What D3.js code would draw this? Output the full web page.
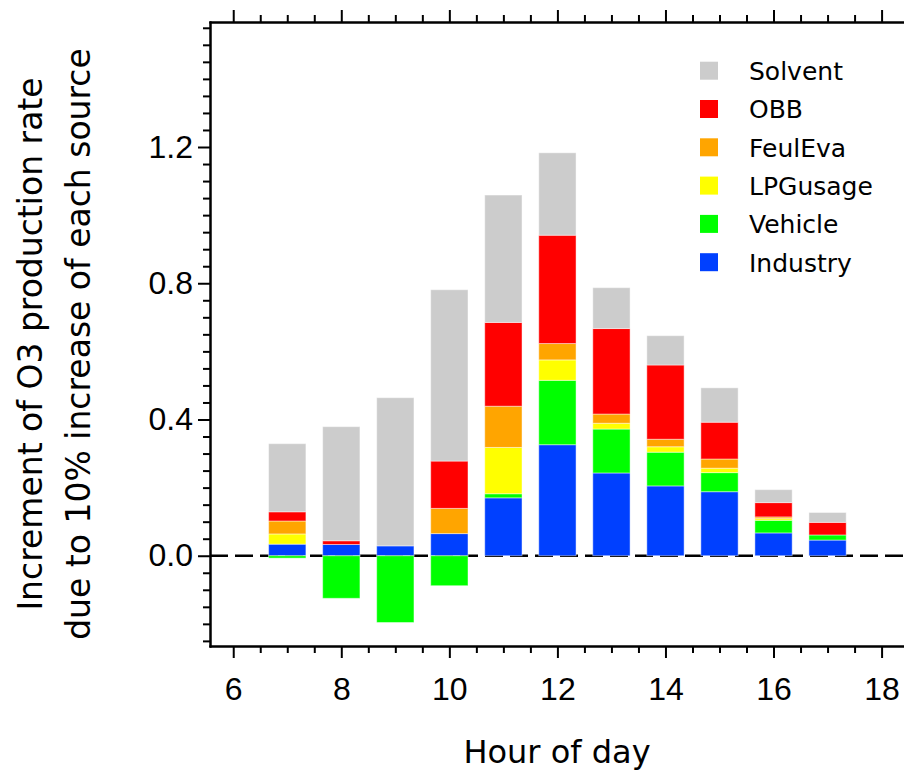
<!DOCTYPE html>
<html>
<head>
<meta charset="utf-8">
<script src="https://cdn.jsdelivr.net/npm/d3@7"></script>
<style>
  body { margin: 0; background: #fff; }
  svg { display: block; font-family: "DejaVu Sans", Verdana, sans-serif; }
  .axis path, .axis line { stroke: #000; stroke-width: 2; }
  .axis text { fill: #000; font-size: 32px; }
</style>
</head>
<body>
<script>
// hours and the contribution of each source (stacked bottom -> top)
var hours = [7, 8, 9, 10, 11, 12, 13, 14, 15, 16, 17];
var industry = [0.034, 0.033, 0.029, 0.065, 0.170, 0.326, 0.243, 0.205, 0.188, 0.067, 0.046];
var vehicle  = [-0.007, -0.125, -0.196, -0.088, 0.012, 0.189, 0.129, 0.099, 0.056, 0.037, 0.015];
var lpgusage = [0.030, 0, 0, 0, 0.136, 0.060, 0.017, 0.016, 0.013, 0.005, 0];
var feuleva  = [0.038, 0, 0, 0.074, 0.121, 0.048, 0.027, 0.022, 0.027, 0.005, 0];
var obb      = [0.027, 0.011, 0, 0.139, 0.246, 0.318, 0.251, 0.218, 0.108, 0.042, 0.037];
var solvent  = [0.200, 0.335, 0.435, 0.503, 0.374, 0.242, 0.120, 0.086, 0.101, 0.038, 0.029];

var sources = ["Industry", "Vehicle", "LPGusage", "FeulEva", "OBB", "Solvent"];
var colors = ["#0040ff", "#00ff00", "#ffff00", "#ffa500", "#ff0000", "#cccccc"];

var xMajor = [6, 8, 10, 12, 14, 16, 18];
var yMajor = [0.0, 0.4, 0.8, 1.2];

var width = 904, height = 770;

// build rows for d3.stack
var rows = hours.map(function (h, i) {
    return {
        hour: h, Industry: industry[i], Vehicle: vehicle[i], LPGusage: lpgusage[i],
        FeulEva: feuleva[i], OBB: obb[i], Solvent: solvent[i]
    };
});

var series = d3.stack()
    .keys(sources)
    .offset(d3.stackOffsetDiverging)(rows);

var color = d3.scaleOrdinal().domain(sources).range(colors);

// plot area runs off the right edge of the window
var xScale = d3.scaleLinear().domain([5.57, 18.5]).range([210, 908.6]);
var yScale = d3.scaleLinear().domain([-0.265, 1.567]).range([646, 22]);

var svg = d3.select("body").append("svg")
    .attr("width", width)
    .attr("height", height);

// zero line (dashed), drawn under the bars
svg.append("line")
    .attr("x1", xScale.range()[0])
    .attr("x2", xScale.range()[1])
    .attr("y1", yScale(0))
    .attr("y2", yScale(0))
    .attr("stroke", "#000")
    .attr("stroke-width", 2.5)
    .attr("stroke-dasharray", "18,7");

// bars
var barW = xScale(6.69) - xScale(6);
svg.append("g")
    .selectAll("g")
    .data(series)
    .join("g")
    .attr("fill", function (d) { return color(d.key); })
    .selectAll("rect")
    .data(function (d) { return d; })
    .join("rect")
    .attr("x", function (d) { return xScale(d.data.hour) - barW / 2; })
    .attr("y", function (d) { return yScale(Math.max(d[0], d[1])); })
    .attr("width", barW)
    .attr("height", function (d) { return Math.abs(yScale(d[0]) - yScale(d[1])); })
    .attr("stroke", "rgba(255,255,255,0.45)")
    .attr("stroke-width", 1);

// minor ticks
var xMinor = d3.range(5.5, 18.51, 0.5).filter(function (v) { return xMajor.indexOf(v) < 0 && v > 5.57; });
var yMinor = d3.range(-0.25, 1.56, 0.05).map(function (v) { return Math.round(v * 100) / 100; })
    .filter(function (v) { return Math.abs(Math.round(v / 0.4) * 0.4 - v) > 0.001; });

// bottom axis
svg.append("g")
    .attr("class", "axis")
    .attr("transform", "translate(0," + yScale.range()[0] + ")")
    .call(d3.axisBottom(xScale).tickValues(xMinor).tickSize(7).tickSizeOuter(0).tickFormat(""));
svg.append("g")
    .attr("class", "axis")
    .attr("transform", "translate(0," + yScale.range()[0] + ")")
    .call(d3.axisBottom(xScale).tickValues(xMajor).tickSize(12).tickSizeOuter(0).tickFormat(d3.format("d")))
    .call(function (g) { g.selectAll("text").attr("dy", null).attr("y", 54); });

// top axis (mirror, no labels)
svg.append("g")
    .attr("class", "axis")
    .attr("transform", "translate(0," + yScale.range()[1] + ")")
    .call(d3.axisTop(xScale).tickValues(xMinor).tickSize(7).tickSizeOuter(0).tickFormat(""));
svg.append("g")
    .attr("class", "axis")
    .attr("transform", "translate(0," + yScale.range()[1] + ")")
    .call(d3.axisTop(xScale).tickValues(xMajor).tickSize(12).tickSizeOuter(0).tickFormat(""));

// left axis
svg.append("g")
    .attr("class", "axis")
    .attr("transform", "translate(" + xScale.range()[0] + ",0)")
    .call(d3.axisLeft(yScale).tickValues(yMinor).tickSize(7).tickSizeOuter(0).tickFormat(""));
svg.append("g")
    .attr("class", "axis")
    .attr("transform", "translate(" + xScale.range()[0] + ",0)")
    .call(d3.axisLeft(yScale).tickValues(yMajor).tickSize(12).tickSizeOuter(0).tickPadding(5).tickFormat(d3.format(".1f")));

svg.selectAll(".axis .domain").attr("stroke-linecap", "square");

// axis titles
svg.append("text")
    .attr("x", 557)
    .attr("y", 763)
    .attr("text-anchor", "middle")
    .style("font-size", "32px")
    .text("Hour of day");

var yTitle = ["Increment of O3 production rate", "due to 10% increase of each source"];
svg.selectAll(".ytitle")
    .data(yTitle)
    .join("text")
    .attr("class", "ytitle")
    .attr("transform", function (d, i) { return "translate(" + (42 + i * 48) + ",344) rotate(-90)"; })
    .attr("text-anchor", "middle")
    .style("font-size", "33px")
    .text(function (d) { return d; });

// legend (top to bottom: Solvent ... Industry)
var legend = svg.append("g")
    .selectAll("g")
    .data(sources.slice().reverse())
    .join("g")
    .attr("transform", function (d, i) { return "translate(700," + (61.7 + i * 38.3) + ")"; });

legend.append("rect")
    .attr("width", 18)
    .attr("height", 18)
    .attr("fill", function (d) { return color(d); });

legend.append("text")
    .attr("x", 49)
    .attr("y", 18.3)
    .style("font-size", "25px")
    .text(function (d) { return d; });
</script>
</body>
</html>
